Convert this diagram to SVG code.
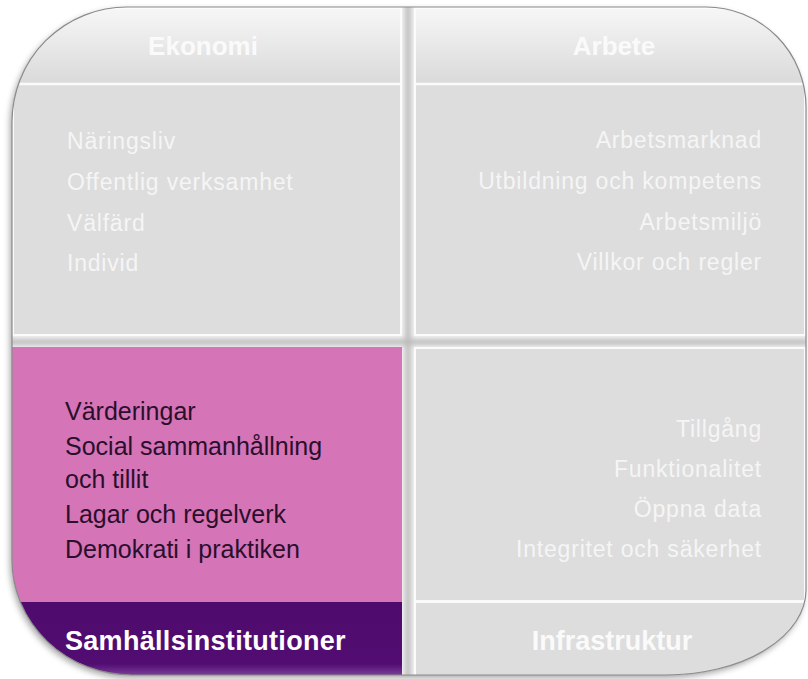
<svg xmlns="http://www.w3.org/2000/svg" width="808" height="679" viewBox="0 0 808 679">
<defs>
  <style>
    .head { font-family: "Liberation Sans", Arial, sans-serif; font-weight: bold; font-size: 26px; fill: #fafafa; text-anchor: middle; }
    .item { font-family: "Liberation Sans", Arial, sans-serif; font-size: 23px; fill: #f5f5f5; letter-spacing: 0.8px; }
    .itemR { text-anchor: end; }
    .pitem { font-family: "Liberation Sans", Arial, sans-serif; font-size: 25px; fill: #2a0f2c; }
    .ptitle { font-family: "Liberation Sans", Arial, sans-serif; font-weight: bold; font-size: 27px; fill: #ffffff; letter-spacing: 0.3px; }
    .panel { fill: #dddddd; }
    .rim { fill: #fbfbfb; }
    .divider { stroke: #fafafa; stroke-width: 2.5; }
  </style>
  <path id="outerShape" d="M127,7 H706 A100,100 0 0 1 806,107 V590 A140,85 0 0 1 666,675 H132 A120,115 0 0 1 12,560 V122 A115,115 0 0 1 127,7 Z"/>
  <clipPath id="clipOuter"><use href="#outerShape"/></clipPath>
  <filter id="shadow" x="-5%" y="-5%" width="110%" height="112%">
    <feGaussianBlur in="SourceAlpha" stdDeviation="3"/>
    <feOffset dx="-2" dy="3" result="b"/>
    <feFlood flood-color="#000" flood-opacity="0.35"/>
    <feComposite in2="b" operator="in"/>
    <feMerge><feMergeNode/><feMergeNode in="SourceGraphic"/></feMerge>
  </filter>
  <filter id="gapBlur"><feGaussianBlur stdDeviation="2.5"/></filter>
  <linearGradient id="topGlow" x1="0" y1="0" x2="0" y2="1">
    <stop offset="0" stop-color="#f6f6f6"/>
    <stop offset="1" stop-color="#dadada"/>
  </linearGradient>
  <linearGradient id="purpleGrad" x1="0" y1="0" x2="0" y2="1">
    <stop offset="0" stop-color="#4f0a6d"/>
    <stop offset="0.85" stop-color="#520d72"/>
    <stop offset="1" stop-color="#7a3c98"/>
  </linearGradient>
</defs>

<rect width="808" height="679" fill="#ffffff"/>

<use href="#outerShape" fill="#f2f2f2" filter="url(#shadow)"/>
<g clip-path="url(#clipOuter)">
  <g filter="url(#gapBlur)" fill="#bdbdbd">
    <rect x="405" y="0" width="6" height="679"/>
    <rect x="0" y="339" width="808" height="6"/>
  </g>
</g>

<g id="ekonomi" clip-path="url(#clipOuter)">
  <rect class="rim" x="12" y="7" width="390" height="329"/>
  <rect x="14" y="9" width="386" height="74" fill="url(#topGlow)"/>
  <rect class="panel" x="14" y="85" width="386" height="249"/>
  <line class="divider" x1="14" y1="84" x2="400" y2="84"/>
  <text class="head" x="203" y="55">Ekonomi</text>
  <text class="item" x="67" y="149">Näringsliv</text>
  <text class="item" x="67" y="190">Offentlig verksamhet</text>
  <text class="item" x="67" y="231">Välfärd</text>
  <text class="item" x="67" y="271">Individ</text>
</g>

<g id="arbete" clip-path="url(#clipOuter)">
  <rect class="rim" x="414" y="7" width="392" height="329"/>
  <rect x="416" y="9" width="388" height="74" fill="url(#topGlow)"/>
  <rect class="panel" x="416" y="85" width="388" height="249"/>
  <line class="divider" x1="416" y1="84" x2="804" y2="84"/>
  <text class="head" x="614" y="55">Arbete</text>
  <text class="item itemR" x="762" y="148">Arbetsmarknad</text>
  <text class="item itemR" x="762" y="189">Utbildning och kompetens</text>
  <text class="item itemR" x="762" y="230">Arbetsmiljö</text>
  <text class="item itemR" x="762" y="270">Villkor och regler</text>
</g>

<g id="samhallsinstitutioner" clip-path="url(#clipOuter)">
  <rect x="12" y="347" width="390" height="256" fill="#d574b6"/>
  <rect x="12" y="602" width="390" height="73" fill="url(#purpleGrad)"/>
  <text class="pitem" x="65" y="420">Värderingar</text>
  <text class="pitem" x="65" y="455">Social sammanhållning</text>
  <text class="pitem" x="65" y="488">och tillit</text>
  <text class="pitem" x="65" y="523">Lagar och regelverk</text>
  <text class="pitem" x="65" y="558">Demokrati i praktiken</text>
  <text class="ptitle" x="65" y="650">Samhällsinstitutioner</text>
</g>

<g id="infrastruktur" clip-path="url(#clipOuter)">
  <rect class="rim" x="414" y="347" width="392" height="328"/>
  <rect class="panel" x="416" y="349" width="388" height="251"/>
  <rect class="panel" x="416" y="603" width="388" height="72"/>
  <line class="divider" x1="416" y1="601.5" x2="804" y2="601.5"/>
  <text class="item itemR" x="762" y="437">Tillgång</text>
  <text class="item itemR" x="762" y="477">Funktionalitet</text>
  <text class="item itemR" x="762" y="517">Öppna data</text>
  <text class="item itemR" x="762" y="557">Integritet och säkerhet</text>
  <text class="head" x="612" y="650" style="font-size:27px">Infrastruktur</text>
</g>

<g id="connectors"/>

<use href="#outerShape" fill="none" stroke="#8a8a8a" stroke-width="1.2"/>
</svg>
